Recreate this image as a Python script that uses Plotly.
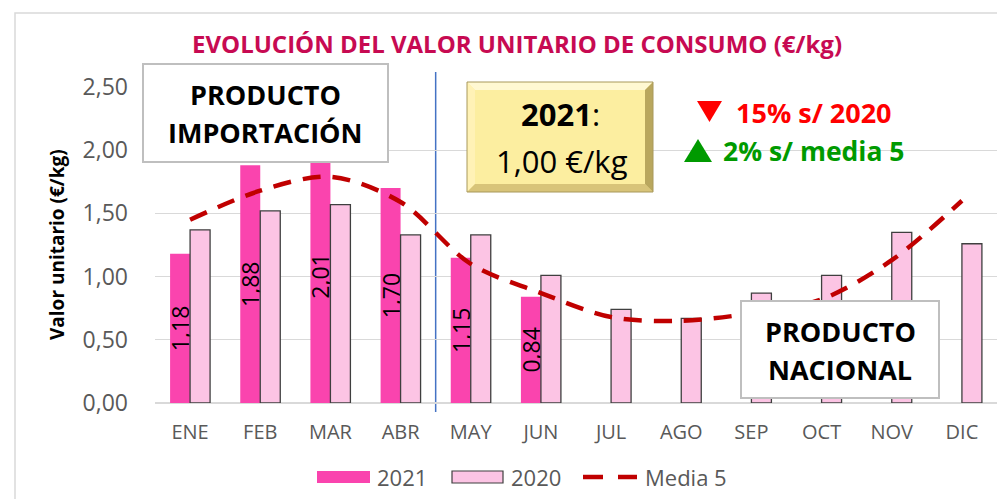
import plotly.graph_objects as go

# Monthly unit value of consumption (€/kg)
months = ["ENE", "FEB", "MAR", "ABR", "MAY", "JUN", "JUL", "AGO", "SEP", "OCT", "NOV", "DIC"]
values_2021 = [1.18, 1.88, 2.01, 1.70, 1.15, 0.84, None, None, None, None, None, None]
values_2020 = [1.37, 1.52, 1.57, 1.33, 1.33, 1.01, 0.74, 0.67, 0.87, 1.01, 1.35, 1.26]
media_5 = [1.45, 1.68, 1.79, 1.59, 1.10, 0.87, 0.68, 0.65, 0.71, 0.82, 1.13, 1.60]
y_ticks = [0, 0.5, 1.0, 1.5, 2.0, 2.5]

FONT = "Open Sans"
GRAY = "#595959"
PINK_2021 = "#FA44AE"
PINK_2020 = "#FCC4E4"
DARK_RED = "#C00000"
RED = "#FF0000"
GREEN = "#009A00"

# Plot-area geometry in pixels (used to place shapes/text in paper units)
FIG_W, FIG_H = 997, 499
L, R, T, B = 155, 0, 87, 96
PW, PH = FIG_W - L - R, FIG_H - T - B


def px(x):
    return (x - L) / PW


def py(y):
    return (T + PH - y) / PH


fig = go.Figure()

fig.add_trace(go.Bar(
    name="2021", x=months, y=values_2021,
    marker=dict(color=PINK_2021, line=dict(width=0)),
    texttemplate="%{y:.2f}", textposition="inside", textangle=-90,
    insidetextanchor="middle", insidetextfont=dict(family=FONT, size=23, color="black"),
    constraintext="none",
))
fig.add_trace(go.Bar(
    name="2020", x=months, y=values_2020,
    marker=dict(color=PINK_2020, line=dict(color="#3F3F3F", width=1.3)),
))
fig.add_trace(go.Scatter(
    name="Media 5", x=months, y=media_5, mode="lines",
    line=dict(color=DARK_RED, width=4.5, dash="18px,12px", shape="spline", smoothing=0.9),
))

shapes = []
annotations = []

# Outer chart border
shapes.append(dict(type="rect", xref="paper", yref="paper",
                   x0=px(15), x1=px(1005), y0=py(510), y1=py(13),
                   line=dict(color="#D9D9D9", width=1.5), layer="below"))

# Divider between imported and national product
shapes.append(dict(type="line", xref="x", yref="paper", x0=3.5, x1=3.5,
                   y0=py(412), y1=py(72), line=dict(color="#4472C4", width=1.5),
                   layer="below"))


def text_box(x0, y0, x1, y1):
    shapes.append(dict(type="rect", xref="paper", yref="paper",
                       x0=px(x0), x1=px(x1), y0=py(y1), y1=py(y0),
                       fillcolor="white", line=dict(color="#BFBFBF", width=2),
                       layer="above"))


def label(x, y, text, size, color="black", bold=False, xanchor="center", angle=0):
    t = f"<b>{text}</b>" if bold else text
    annotations.append(dict(xref="paper", yref="paper", x=px(x), y=py(y), text=t,
                            showarrow=False, xanchor=xanchor, yanchor="middle",
                            textangle=angle,
                            font=dict(family=FONT, size=size, color=color)))


def poly(points, fill, layer="above"):
    d = "M " + " L ".join(f"{px(a):.5f},{py(b):.5f}" for a, b in points) + " Z"
    shapes.append(dict(type="path", xref="paper", yref="paper", path=d,
                       fillcolor=fill, line=dict(width=0), layer=layer))


# Imported product box
text_box(143, 64, 388, 162)
label(265, 94, "PRODUCTO", 27, bold=True)
label(265, 132, "IMPORTACIÓN", 27, bold=True)

# National product box
text_box(741, 301, 939, 398)
label(840, 331, "PRODUCTO", 27, bold=True)
label(840, 369, "NACIONAL", 27, bold=True)

# Bevelled gold box with the yearly value
gx0, gy0, gx1, gy1, bv = 467, 82, 653, 192, 8
poly([(gx0, gy0), (gx1, gy0), (gx1, gy1), (gx0, gy1)], "#FCEEA0")
poly([(gx0, gy0), (gx1, gy0), (gx1 - bv, gy0 + bv), (gx0 + bv, gy0 + bv)], "#FFF8D2")
poly([(gx0, gy0), (gx0 + bv, gy0 + bv), (gx0 + bv, gy1 - bv), (gx0, gy1)], "#FFF2B6")
poly([(gx0, gy1), (gx1, gy1), (gx1 - bv, gy1 - bv), (gx0 + bv, gy1 - bv)], "#D8C479")
poly([(gx1, gy0), (gx1, gy1), (gx1 - bv, gy1 - bv), (gx1 - bv, gy0 + bv)], "#B9A75E")
shapes.append(dict(type="rect", xref="paper", yref="paper",
                   x0=px(gx0), x1=px(gx1), y0=py(gy1), y1=py(gy0),
                   line=dict(color="#A8985A", width=1), layer="above"))
label(560, 114, "<b>2021</b>:", 31)
label(562, 161, "1,00 €/kg", 31)

# Year-over-year comparison notes with triangle markers
poly([(697, 101), (722, 101), (709.5, 122)], RED)
label(734, 112, "15% s/ 2020", 27, color=RED, bold=True, xanchor="left")
poly([(684, 162), (712, 162), (698, 139)], GREEN)
label(721, 151, "2% s/ media 5", 26.5, color=GREEN, bold=True, xanchor="left")

# Title
label(517, 44, "EVOLUCIÓN DEL VALOR UNITARIO DE CONSUMO (€/kg)", 24,
      color="#C70A52", bold=True)

# Y-axis title
label(57, 245, "Valor unitario (€/kg)", 19, bold=True, angle=-90)

# Legend drawn by hand with wide swatches
ly = 477
shapes.append(dict(type="rect", xref="paper", yref="paper", x0=px(317), x1=px(370),
                   y0=py(483), y1=py(471), fillcolor=PINK_2021, line=dict(width=0)))
label(375, ly, "2021", 22, color=GRAY, xanchor="left")
shapes.append(dict(type="rect", xref="paper", yref="paper", x0=px(452), x1=px(503),
                   y0=py(483), y1=py(471), fillcolor=PINK_2020,
                   line=dict(color="#3F3F3F", width=1.2)))
label(509, ly, "2020", 22, color=GRAY, xanchor="left")
for a, b in [(583, 603), (618, 637)]:
    shapes.append(dict(type="line", xref="paper", yref="paper", x0=px(a), x1=px(b),
                       y0=py(ly), y1=py(ly), line=dict(color=DARK_RED, width=4.5)))
label(643, ly, "Media 5", 22, color=GRAY, xanchor="left")

fig.update_layout(
    width=FIG_W, height=FIG_H,
    margin=dict(l=L, r=R, t=T, b=B, pad=0),
    paper_bgcolor="white", plot_bgcolor="white",
    separators=",.",
    barmode="group", bargap=0.43, bargroupgap=0,
    showlegend=False,
    shapes=shapes, annotations=annotations,
    font=dict(family=FONT, color=GRAY),
)
fig.update_xaxes(
    type="category", showgrid=False, showline=False, zeroline=False,
    tickfont=dict(family=FONT, size=20, color=GRAY), ticks="", ticklabelstandoff=15,
)
fig.update_yaxes(
    range=[0, 2.5], tickvals=y_ticks, tickformat=".2f",
    showgrid=True, gridcolor="#D9D9D9", gridwidth=1,
    zeroline=True, zerolinecolor="#D9D9D9", zerolinewidth=1.5,
    showline=False, ticks="", ticklabelstandoff=26,
    tickfont=dict(family=FONT, size=23, color=GRAY),
)

fig.write_html("out.html")
